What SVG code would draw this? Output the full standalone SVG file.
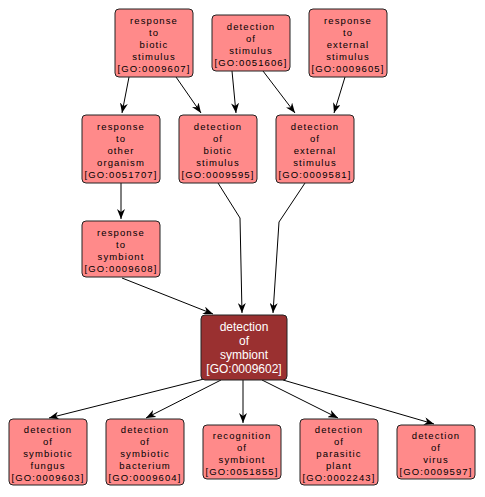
<svg xmlns="http://www.w3.org/2000/svg" width="485" height="497" viewBox="0 0 485 497">
<style>
.n rect{fill:#ff8a8a;stroke:#222;stroke-width:1}
.n text{font-family:"Liberation Sans",Arial,sans-serif;font-size:9.5px;letter-spacing:1.1px;fill:#000;text-anchor:middle}
.m rect{fill:#9a3030;stroke:#222;stroke-width:1}
.m text{font-family:"Liberation Sans",Arial,sans-serif;font-size:12px;fill:#fff;text-anchor:middle}
.e path{fill:none;stroke:#000;stroke-width:1}
</style>
<defs>
<marker id="a" viewBox="0 0 10 8" refX="10" refY="4" markerWidth="10" markerHeight="8" markerUnits="userSpaceOnUse" orient="auto">
<path d="M0,0 L10,4 L0,8 L3,4 z" fill="#000"/>
</marker>
</defs>
<rect width="485" height="497" fill="#fff"/>
<g id="edges" class="e">
<path d="M129,77 L122,113" marker-end="url(#a)"/>
<path d="M176,77 L201,113" marker-end="url(#a)"/>
<path d="M232,71 L236,113" marker-end="url(#a)"/>
<path d="M263,71 L295,113" marker-end="url(#a)"/>
<path d="M345,77 L334,113" marker-end="url(#a)"/>
<path d="M121,183 L121,219" marker-end="url(#a)"/>
<path d="M122,278 L213,314" marker-end="url(#a)"/>
<path d="M218,183 L240,218 L242,313" marker-end="url(#a)"/>
<path d="M305,183 L279,222 L273,313" marker-end="url(#a)"/>
<path d="M204,379 L49,418" marker-end="url(#a)"/>
<path d="M221,380 L146,418" marker-end="url(#a)"/>
<path d="M243,380 L243,423" marker-end="url(#a)"/>
<path d="M262,380 L338,418" marker-end="url(#a)"/>
<path d="M283,380 L434,424" marker-end="url(#a)"/>
</g>
<g id="GO0009607" class="n">
<rect x="115" y="9" width="78" height="68" rx="4"/>
<text x="154" y="23.5">response<tspan x="154" dy="12">to</tspan><tspan x="154" dy="12">biotic</tspan><tspan x="154" dy="12">stimulus</tspan><tspan x="154" dy="12">[GO:0009607]</tspan></text>
</g>
<g id="GO0051606" class="n">
<rect x="212" y="15" width="78" height="56" rx="4"/>
<text x="251" y="29.5">detection<tspan x="251" dy="12">of</tspan><tspan x="251" dy="12">stimulus</tspan><tspan x="251" dy="12">[GO:0051606]</tspan></text>
</g>
<g id="GO0009605" class="n">
<rect x="309" y="9" width="78" height="68" rx="4"/>
<text x="348" y="23.5">response<tspan x="348" dy="12">to</tspan><tspan x="348" dy="12">external</tspan><tspan x="348" dy="12">stimulus</tspan><tspan x="348" dy="12">[GO:0009605]</tspan></text>
</g>
<g id="GO0051707" class="n">
<rect x="82" y="115" width="78" height="68" rx="4"/>
<text x="121" y="129.5">response<tspan x="121" dy="12">to</tspan><tspan x="121" dy="12">other</tspan><tspan x="121" dy="12">organism</tspan><tspan x="121" dy="12">[GO:0051707]</tspan></text>
</g>
<g id="GO0009595" class="n">
<rect x="179" y="115" width="78" height="68" rx="4"/>
<text x="218" y="129.5">detection<tspan x="218" dy="12">of</tspan><tspan x="218" dy="12">biotic</tspan><tspan x="218" dy="12">stimulus</tspan><tspan x="218" dy="12">[GO:0009595]</tspan></text>
</g>
<g id="GO0009581" class="n">
<rect x="276" y="115" width="78" height="68" rx="4"/>
<text x="315" y="129.5">detection<tspan x="315" dy="12">of</tspan><tspan x="315" dy="12">external</tspan><tspan x="315" dy="12">stimulus</tspan><tspan x="315" dy="12">[GO:0009581]</tspan></text>
</g>
<g id="GO0009608" class="n">
<rect x="82" y="221" width="78" height="56" rx="4"/>
<text x="121" y="235.5">response<tspan x="121" dy="12">to</tspan><tspan x="121" dy="12">symbiont</tspan><tspan x="121" dy="12">[GO:0009608]</tspan></text>
</g>
<g id="GO0009602" class="m">
<rect x="201" y="315" width="86" height="65" rx="4"/>
<text x="244" y="331">detection<tspan x="244" dy="14">of</tspan><tspan x="244" dy="14">symbiont</tspan><tspan x="244" dy="14">[GO:0009602]</tspan></text>
</g>
<g id="GO0009603" class="n">
<rect x="9" y="419" width="78" height="66" rx="4"/>
<text x="48" y="432.5">detection<tspan x="48" dy="12">of</tspan><tspan x="48" dy="12">symbiotic</tspan><tspan x="48" dy="12">fungus</tspan><tspan x="48" dy="12">[GO:0009603]</tspan></text>
</g>
<g id="GO0009604" class="n">
<rect x="106" y="419" width="78" height="66" rx="4"/>
<text x="145" y="432.5">detection<tspan x="145" dy="12">of</tspan><tspan x="145" dy="12">symbiotic</tspan><tspan x="145" dy="12">bacterium</tspan><tspan x="145" dy="12">[GO:0009604]</tspan></text>
</g>
<g id="GO0051855" class="n">
<rect x="203" y="425" width="78" height="54" rx="4"/>
<text x="242" y="438.5">recognition<tspan x="242" dy="12">of</tspan><tspan x="242" dy="12">symbiont</tspan><tspan x="242" dy="12">[GO:0051855]</tspan></text>
</g>
<g id="GO0002243" class="n">
<rect x="300" y="419" width="78" height="66" rx="4"/>
<text x="339" y="432.5">detection<tspan x="339" dy="12">of</tspan><tspan x="339" dy="12">parasitic</tspan><tspan x="339" dy="12">plant</tspan><tspan x="339" dy="12">[GO:0002243]</tspan></text>
</g>
<g id="GO0009597" class="n">
<rect x="397" y="425" width="78" height="54" rx="4"/>
<text x="436" y="438.5">detection<tspan x="436" dy="12">of</tspan><tspan x="436" dy="12">virus</tspan><tspan x="436" dy="12">[GO:0009597]</tspan></text>
</g>
</svg>
